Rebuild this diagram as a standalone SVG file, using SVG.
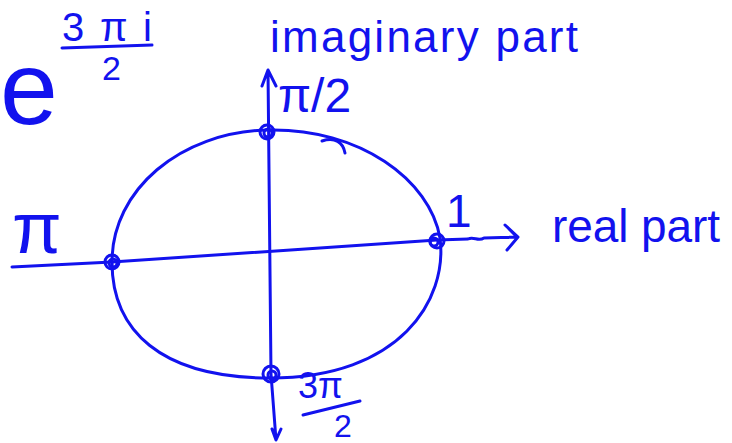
<svg xmlns="http://www.w3.org/2000/svg" width="732" height="443" viewBox="0 0 732 443">
<style>
.s{fill:none;stroke:#1212ee;stroke-width:3;stroke-linecap:round;stroke-linejoin:round}
.t{fill:#1212ee;font-family:"Liberation Sans",Arial,sans-serif}
</style>
<rect width="732" height="443" fill="#fff"/>
<g id="formula">
<text class="t" x="0" y="124" font-size="104">e</text>
<text class="t" x="62" y="41" font-size="40" textLength="90" lengthAdjust="spacing">3πi</text>
<path class="s" d="M62,48 L152,45"/>
<text class="t" x="102" y="80" font-size="34">2</text>
</g>
<g id="connectors">
<path id="circle" class="s" d="M112,262 C112,190 180,132 268,130 C360,128 430,180 440,238 C448,300 400,378 270,378 C160,378 112,330 112,262 Z"/>
<path id="real-axis" class="s" d="M12,267 L112,262 L437,240 L468,239 C474,236 478,242 484,238 L516,237 M505,225 L518,237 L507,250 M509,229 L516,236"/>
<path id="imag-axis" class="s" d="M268,70 L271,374 L276,440 M262,86 L268,70 L276,86 M272,429 L276,440 L281,429"/>
<path id="hook" class="s" d="M322,141 C335,137 343,142 345,153"/>
</g>
<g id="points">
<circle class="s" cx="267" cy="132" r="7"/><circle class="s" cx="268" cy="133" r="4"/>
<circle class="s" cx="112" cy="262" r="7"/><circle class="s" cx="113" cy="263" r="4"/>
<circle class="s" cx="437" cy="241" r="7"/><circle class="s" cx="434" cy="242" r="4"/>
<circle class="s" cx="271" cy="374" r="8"/><circle class="s" cx="272" cy="375" r="4"/>
</g>
<g id="imaginary-label">
<text class="t" x="270" y="52" font-size="44" textLength="308" lengthAdjust="spacing">imaginary part</text>
</g>
<g id="pi-half">
<text class="t" x="278" y="112" font-size="48">π/2</text>
</g>
<g id="pi">
<text class="t" x="12" y="253" font-size="72">π</text>
</g>
<g id="one">
<text class="t" x="446" y="227" font-size="46">1</text>
</g>
<g id="real-label">
<text class="t" x="552" y="242" font-size="46" textLength="168" lengthAdjust="spacing">real part</text>
</g>
<g id="three-pi-half">
<text class="t" x="298" y="398" font-size="36">3π</text>
<path class="s" d="M303,415 L360,401"/>
<text class="t" x="334" y="437" font-size="32">2</text>
</g>
</svg>
